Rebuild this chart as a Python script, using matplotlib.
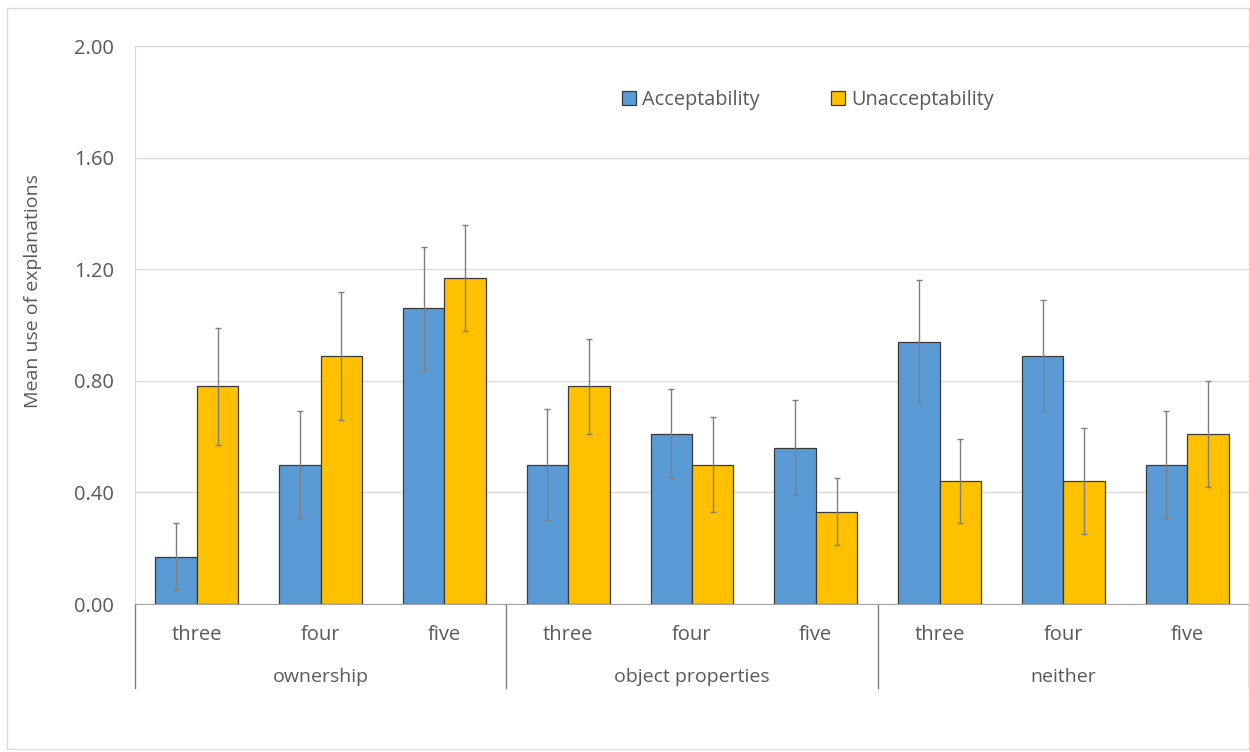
import numpy as np
import matplotlib.pyplot as plt
from matplotlib.patches import Rectangle

plt.rcParams["font.family"] = ["Open Sans", "DejaVu Sans"]

groups = ["ownership", "object properties", "neither"]
levels = ["three", "four", "five"]

accept = [0.17, 0.50, 1.06, 0.50, 0.61, 0.56, 0.94, 0.89, 0.50]
accept_err = [0.12, 0.19, 0.22, 0.20, 0.16, 0.17, 0.22, 0.20, 0.19]
unaccept = [0.78, 0.89, 1.17, 0.78, 0.50, 0.33, 0.44, 0.44, 0.61]
unaccept_err = [0.21, 0.23, 0.19, 0.17, 0.17, 0.12, 0.15, 0.19, 0.19]

blue = "#5B9BD5"
gold = "#FFC000"
edge = "#3a3a3a"
err_color = "#7f7f7f"
text_color = "#595959"
grid_color = "#d9d9d9"

fig = plt.figure(figsize=(12.5, 7.52), dpi=100)
fig.patches.append(Rectangle((7 / 1250, 3 / 752), 1242 / 1250, 741 / 752,
                             transform=fig.transFigure, fill=False,
                             edgecolor="#d9d9d9", linewidth=1.0))

ax = fig.add_axes([135 / 1250, 1 - 604 / 752, 1114 / 1250, 558 / 752])

x = np.arange(len(accept))
width = 0.335
ekw = dict(ecolor=err_color, elinewidth=1.0, capsize=2.5, capthick=1.0)

ax.bar(x - width / 2, accept, width, yerr=accept_err, color=blue,
       edgecolor=edge, linewidth=0.9, error_kw=ekw, label="Acceptability", zorder=2)
ax.bar(x + width / 2, unaccept, width, yerr=unaccept_err, color=gold,
       edgecolor=edge, linewidth=0.9, error_kw=ekw, label="Unacceptability", zorder=2)

ax.set_xlim(-0.5, len(accept) - 0.5)
ax.set_ylim(0, 2.0)
ticks = np.arange(0, 2.01, 0.4)
ax.set_yticks(ticks)
ax.set_yticklabels([f"{v:.2f}" for v in ticks])
ax.tick_params(axis="y", length=0, pad=15, labelsize=14.5, labelcolor=text_color)
ax.set_xticks([])
ax.yaxis.grid(True, color=grid_color, linewidth=1.0, zorder=0)
ax.set_axisbelow(True)

for s in ["top", "right"]:
    ax.spines[s].set_visible(False)
ax.spines["left"].set_color(grid_color)
ax.spines["bottom"].set_color("#a6a6a6")

# two-level category axis
trans = ax.get_xaxis_transform()
for i in range(len(accept)):
    ax.text(i, -0.055, levels[i % 3], transform=trans, ha="center", va="center",
            fontsize=14.5, color=text_color)
for g, name in enumerate(groups):
    ax.text(3 * g + 1, -0.130, name, transform=trans, ha="center", va="center",
            fontsize=14, color=text_color)
for b in [-0.5, 2.5, 5.5, 8.5]:
    ax.plot([b, b], [0, -0.1505], transform=trans, color="#7f7f7f",
            linewidth=1.0, clip_on=False)

fig.text(33 / 1250, 1 - 291 / 752, "Mean use of explanations", rotation=90,
         ha="center", va="center", fontsize=14, color=text_color)

leg = fig.legend(loc="center", bbox_to_anchor=(808 / 1250, 1 - 100 / 752), ncol=2,
                 frameon=False, fontsize=14.3, handlelength=0.7, handleheight=0.7,
                 handletextpad=0.3, columnspacing=3.6)
for t in leg.get_texts():
    t.set_color(text_color)

plt.savefig("out.png", dpi=100)
plt.close()
